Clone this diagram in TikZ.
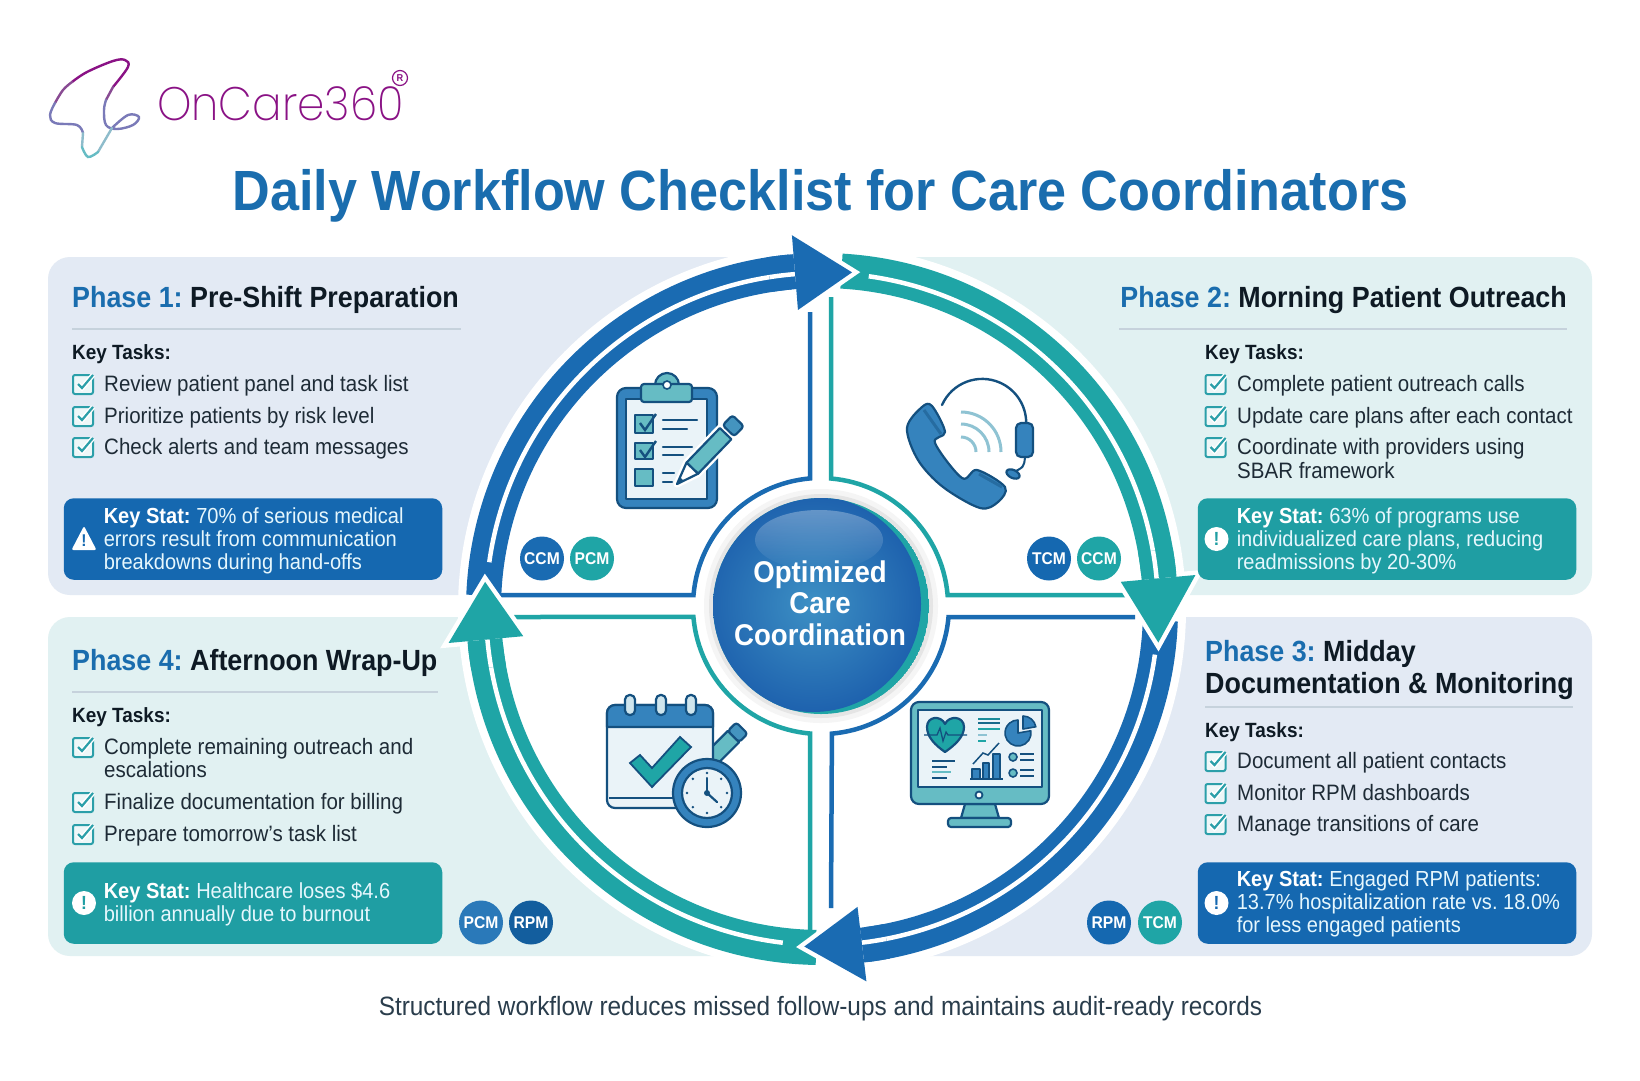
\documentclass[tikz,border=0pt]{standalone}
\usepackage{fontspec}
\setmainfont[FakeStretch=0.92]{Liberation Sans}
\newfontfamily\logofont[FakeStretch=0.93]{Poppins ExtraLight}
\usepackage{xcolor}
\usetikzlibrary{positioning,fadings}
\definecolor{arcblue}{HTML}{1A6BB2}
\definecolor{arcteal}{HTML}{1FA5A6}
\definecolor{panelblue}{HTML}{E3EAF4}
\definecolor{panelteal}{HTML}{E1F1F2}
\definecolor{statblue}{HTML}{1568B0}
\definecolor{statteal}{HTML}{1F9EA3}
\definecolor{titleblue}{HTML}{1A6DAE}
\definecolor{inkdark}{HTML}{0E1A24}
\definecolor{inktask}{HTML}{1E2B36}
\definecolor{inkfoot}{HTML}{2A3D4C}
\definecolor{rulegrey}{HTML}{C6D2DC}
\definecolor{checkteal}{HTML}{2B9FA9}
\definecolor{logopurple}{HTML}{8A1285}
\definecolor{iconink}{HTML}{14507F}
\definecolor{iconblue}{HTML}{3583BD}
\definecolor{iconteal}{HTML}{66BCC4}
\definecolor{iconpale}{HTML}{EAF3F8}
\definecolor{iconwave}{HTML}{8FC3D3}
\definecolor{hubglow}{HTML}{3D90C4}
\definecolor{hubedge}{HTML}{1E62AE}
\frenchspacing
\begin{document}
\begin{tikzpicture}[
        x=1pt,y=-1pt,
        phasetitle/.style={anchor=west, font=\bfseries\fontsize{29.2}{31}\selectfont, text=inkdark, inner sep=0pt},
        keyhead/.style={anchor=west, font=\bfseries\fontsize{20.6}{23}\selectfont, text=inkdark, inner sep=0pt, text height=15pt, text depth=5pt},
        tasktext/.style={anchor=west, font=\fontsize{22.3}{23}\selectfont, text=inktask, inner sep=0pt, text height=15pt, text depth=5pt},
        statbox/.style={rectangle, rounded corners=10, minimum width=378.5, minimum height=81.5, inner sep=0pt},
        stattext/.style={anchor=west, align=left, font=\fontsize{21.8}{23}\selectfont, text=white!90!cyan, inner sep=0pt},
        badge/.style={circle, minimum size=44, inner sep=0pt, text=white, font=\bfseries\fontsize{17}{18}\selectfont},
        alertdot/.style={circle, fill=white, minimum size=24, inner sep=0pt, font=\bfseries\fontsize{19}{19}\selectfont},
        bandblue/.style={draw=arcblue, line width=35},
        bandteal/.style={draw=arcteal, line width=35},
        bandgap/.style={draw=white, line width=4.5},
        headhalo/.style={draw=white, line width=9, line join=miter},
        quadblue/.style={draw=arcblue, line width=4.5},
        quadteal/.style={draw=arcteal, line width=4.5},
        iconline/.style={draw=iconink, line width=2.2, line join=round},
        iconbar/.style={draw=iconink, line width=2.2, line cap=round},
        checkbox/.pic={
            \draw[checkteal, line width=2, rounded corners=2, fill=checkteal!8] (-10,-9) rectangle (10,10);
            \draw[white, line width=5] (-5,0) -- (-1,4) -- (10,-9);
            \draw[checkteal, line width=2.2] (-5,0) -- (-1,4) -- (10,-9);
        }
    ]
        \useasboundingbox (0,0) rectangle (1640,1080);
        \fill[white] (0,0) rectangle (1640,1080);

        % Logo
        \draw[logopurple, line width=2.4, line cap=round] plot[smooth, tension=0.6] coordinates {(113,87) (128,67) (125,60) (113,61) (87,72) (72,82)};
        \draw[logopurple!75!iconwave!80!gray, line width=2.4, line cap=round] plot[smooth, tension=0.6] coordinates {(72,82) (63,90) (55,103)};
        \draw[logopurple!75!iconwave!80!gray, line width=2.4, line cap=round] plot[smooth, tension=0.6] coordinates {(113,87) (106,100)};
        \draw[gray!70!blue!80, line width=2.4, line cap=round] plot[smooth, tension=0.6] coordinates {(55,103) (50,115) (55,123) (77,125) (83,133)};
        \draw[gray!70!blue!80, line width=2.4, line cap=round] plot[smooth, tension=0.6] coordinates {(106,100) (104,110) (106,125) (117,129) (133,125) (139,117) (128,115) (112,128)};
        \draw[iconwave!90!gray, line width=2.4, line cap=round] plot[smooth, tension=0.6] coordinates {(112,128) (98,152)};
        \draw[iconwave!90!gray, line width=2.4, line cap=round] plot[smooth, tension=0.6] coordinates {(83,133) (82,147)};
        \draw[iconteal, line width=2.4, line cap=round] plot[smooth, tension=0.6] coordinates {(82,147) (88,157) (98,152)};
        \node[anchor=west, inner sep=0pt, text=logopurple, font=\logofont\fontsize{47}{47}\selectfont] (logotext) at (157,104) {OnCare360};
        \node[circle, draw=logopurple, line width=1.2, minimum size=15, inner sep=0pt, text=logopurple, font=\bfseries\fontsize{10}{10}\selectfont] (logomark) at (400,78) {R};

        % Title
        \node[text=titleblue, inner sep=0pt, font=\bfseries\fontsize{56.7}{58}\selectfont] (title) at (820.5,195.5) {Daily Workflow Checklist for Care Coordinators};

        % Panels
        \fill[panelblue, rounded corners=22] (48,257) rectangle (800,595);
        \fill[panelteal, rounded corners=22] (840,257) rectangle (1592,595);
        \fill[panelteal, rounded corners=22] (48,617) rectangle (800,956);
        \fill[panelblue, rounded corners=22] (840,617) rectangle (1592,956);
        \fill[white] (822,609) circle[radius=364];

        % Quadrant lines
        \draw[quadblue] (501,595) -- (693.5,595) arc[start angle=184.9, end angle=265.1, radius=128] -- (810,312);
        \draw[quadteal] (831,297) -- (831,478.5) arc[start angle=274.9, end angle=355.1, radius=128] -- (1143,595);
        \draw[quadblue] (1135,617) -- (948.5,617) arc[start angle=4.9, end angle=85.1, radius=128] -- (831,908);
        \draw[quadteal] (810,932) -- (810,733.5) arc[start angle=94.9, end angle=175.1, radius=128] -- (514,617);

        % Cycle arrows
        \begin{scope}[shift={(822,609)}]
            \draw[bandblue] (182.3:338.5) arc[start angle=182.3, end angle=265.4, radius=338.5];
            \draw[bandteal] (273.3:338.5) arc[start angle=273.3, end angle=354.8, radius=338.5];
            \draw[bandblue] (2:338.5) arc[start angle=2, end angle=83.2, radius=338.5];
            \draw[bandteal] (91:338.5) arc[start angle=91, end angle=174.8, radius=338.5];
            \draw[bandgap] (188:336) arc[start angle=188, end angle=266, radius=336];
            \draw[bandgap] (278:336) arc[start angle=278, end angle=355.4, radius=336];
            \draw[bandgap] (7.8:336) arc[start angle=7.8, end angle=83.8, radius=336];
            \draw[bandgap] (96.7:336) arc[start angle=96.7, end angle=175.4, radius=336];

            \draw[headhalo] (265.4:300) -- (265.4:375) -- (275.1:338) -- cycle;
            \draw[bandblue] (261:338.5) arc[start angle=261, end angle=265.4, radius=338.5];
            \draw[bandgap] (261:336) arc[start angle=261, end angle=265.4, radius=336];
            \fill[arcblue] (265.4:300) -- (265.4:375) -- (275.1:338) -- cycle;

            \draw[headhalo] (354.8:300) -- (354.8:375) -- (5.7:338) -- cycle;
            \draw[bandteal] (350:338.5) arc[start angle=350, end angle=354.8, radius=338.5];
            \draw[bandgap] (350:336) arc[start angle=350, end angle=354.8, radius=336];
            \fill[arcteal] (354.8:300) -- (354.8:375) -- (5.7:338) -- cycle;

            \draw[headhalo] (83.2:300) -- (83.2:375) -- (93:338) -- cycle;
            \draw[bandblue] (79:338.5) arc[start angle=79, end angle=83.2, radius=338.5];
            \draw[bandgap] (79:336) arc[start angle=79, end angle=83.2, radius=336];
            \fill[arcblue] (83.2:300) -- (83.2:375) -- (93:338) -- cycle;

            \draw[headhalo] (174.8:300) -- (174.8:375) -- (184.6:338) -- cycle;
            \draw[bandteal] (170:338.5) arc[start angle=170, end angle=174.8, radius=338.5];
            \draw[bandgap] (170:336) arc[start angle=170, end angle=174.8, radius=336];
            \fill[arcteal] (174.8:300) -- (174.8:375) -- (184.6:338) -- cycle;
        \end{scope}

        % Hub
        \fill[gray!8] (821,606) circle[radius=117];
        \fill[gray!20] (821,606) circle[radius=112];
        \begin{scope}
            \clip (821,606) circle[radius=108];
            \fill[arcteal] (821,606) circle[radius=108];
            \shade[inner color=hubglow, outer color=hubedge] (813,604) circle[radius=108];
        \end{scope}
        \fill[white, path fading=south, opacity=0.3] (819,540) ellipse[x radius=64, y radius=30];
        \node[align=center, text=white, inner sep=0pt, font=\bfseries\fontsize{30}{31.5}\selectfont] (hub) at (820,603) {Optimized\\Care\\Coordination};

        % Clipboard icon
        \draw[iconline, fill=iconblue, rounded corners=9] (617,388) rectangle (717,508);
        \draw[iconline, fill=iconpale] (626,399) rectangle (707,499);
        \draw[iconline, fill=iconteal] (667,385) circle[radius=12];
        \draw[iconline, fill=iconteal, rounded corners=3] (641,384) rectangle (692,402);
        \fill[iconteal] (656,386) rectangle (678,392);
        \draw[iconink, line width=1.6, fill=white] (667,385) circle[radius=4];
        \draw[iconline, fill=iconteal] (635,415) rectangle (653,433);
        \draw[iconline, fill=iconteal] (635,443) rectangle (653,459);
        \draw[iconline, fill=iconteal] (635,469) rectangle (653,486);
        \draw[iconink, line width=2.4] (640,423) -- (645,430) -- (656,414);
        \draw[iconink, line width=2.4] (640,450) -- (645,457) -- (656,441);
        \draw[iconbar] (663,420) -- (697,420);
        \draw[iconbar] (663,429) -- (687,429);
        \draw[iconbar] (663,447) -- (692,447);
        \draw[iconbar] (663,455) -- (683,455);
        \draw[iconbar] (663,473) -- (674,473);
        \draw[iconbar] (663,482) -- (672,482);
        \begin{scope}[shift={(677,484)}, rotate=46]
            \draw[white, line width=7, line join=round] (0,0) -- (22,-8) -- (85,-8) -- (85,8) -- (22,8) -- cycle;
            \draw[iconline, fill=iconteal] (22,-8) -- (70,-8) -- (70,8) -- (22,8) -- cycle;
            \draw[iconline, fill=iconblue!70!iconteal, rounded corners=3] (74,-8) -- (88,-8) -- (88,8) -- (74,8) -- cycle;
            \draw[iconline, fill=white] (0,0) -- (22,-8) -- (22,8) -- cycle;
            \fill[iconink] (0,0) -- (7,-3) -- (7,3) -- cycle;
        \end{scope}

        % Phone icon
        \draw[iconink, line width=2.4, line cap=round] (942,405) arc[start angle=204, end angle=360, radius=44];
        \draw[iconline, fill=iconblue] plot[smooth cycle, tension=0.55] coordinates {(922,407) (932,406) (945,432) (935,443) (962,478) (977,470) (1005,487) (998,502) (980,508) (943,487) (918,460) (907,428)};
        \draw[iconblue!55!iconink, line width=3] (924,410) -- (941,434);
        \draw[iconblue!55!iconink, line width=3] (979,474) -- (1002,487);
        \draw[iconwave, line width=3] (961,412) arc[start angle=270, end angle=360, radius=40];
        \draw[iconwave, line width=3] (961,424) arc[start angle=270, end angle=360, radius=28];
        \draw[iconwave, line width=3] (961,437) arc[start angle=270, end angle=360, radius=15];
        \draw[iconline, fill=iconblue, rounded corners=5] (1016,423) rectangle (1033,457);
        \draw[iconink, line width=2] (1025,457) .. controls (1024,467) .. (1012,473);
        \draw[iconline, fill=iconblue, rotate around={-25:(1013,474)}] (1013,474) ellipse[x radius=7, y radius=4];

        % Calendar icon
        \begin{scope}[shift={(708,762)}, rotate=45]
            \draw[iconline, fill=iconteal] (0,-8) -- (36,-8) -- (36,8) -- (0,8) -- cycle;
            \draw[iconline, fill=iconblue!70!iconteal, rounded corners=3] (36,-8) -- (48,-8) -- (48,8) -- (36,8) -- cycle;
        \end{scope}
        \draw[iconline, fill=iconpale, rounded corners=8] (607,705) rectangle (713,808);
        \draw[iconink, line width=1.6] (609,798) -- (680,798);
        \draw[iconline, fill=iconblue] (607,727) -- (607,713) arc[start angle=180, end angle=270, radius=8] -- (705,705) arc[start angle=270, end angle=360, radius=8] -- (713,727) -- cycle;
        \draw[iconline, fill=iconpale!70!iconwave, rounded corners=4.5] (625,695) rectangle (635,715);
        \draw[iconline, fill=iconpale!70!iconwave, rounded corners=4.5] (656,695) rectangle (666,715);
        \draw[iconline, fill=iconpale!70!iconwave, rounded corners=4.5] (686,695) rectangle (696,715);
        \draw[iconink, line width=1.8, fill=arcteal] (630,763) -- (640,755) -- (652,768) -- (680,737) -- (691,747) -- (652,787) -- cycle;
        \draw[iconline, fill=iconblue] (707,793) circle[radius=34];
        \draw[iconline, fill=iconpale] (707,793) circle[radius=25];
        \draw[iconbar] (707,793) -- (707,778);
        \draw[iconbar] (707,793) -- (717,802);
        \fill[iconink] (707,793) circle[radius=3];
        \foreach \a in {0,45,...,315} \fill[iconink] ([shift={(\a:20)}]707,793) circle[radius=1.4];

        % Monitor icon
        \draw[iconline, fill=iconteal] (965,804) -- (995,804) -- (999,818) -- (961,818) -- cycle;
        \draw[iconline, fill=iconteal, rounded corners=3] (948,818) rectangle (1011,827);
        \draw[iconline, fill=iconteal, rounded corners=8] (911,702) rectangle (1049,804);
        \draw[iconline, fill=iconpale] (918,710) rectangle (1042,787);
        \draw[iconink, line width=1.8, fill=white] (979,795) circle[radius=3.5];
        \draw[iconline, fill=arcteal] (945,752) .. controls (935,745) and (927,737) .. (927,727) .. controls (927,716) and (941,715) .. (945,724) .. controls (949,715) and (964,716) .. (964,727) .. controls (964,737) and (955,745) .. (945,752) -- cycle;
        \draw[iconink, line width=1.3] (924,735) -- (937,735) -- (940,728) -- (943,741) -- (946,732) -- (948,735) -- (967,735);
        \draw[arcteal!70!iconink, line width=2] (978,719) -- (1000,719);
        \draw[iconink!70!arcteal, line width=2] (978,723) -- (1000,723);
        \draw[arcteal, line width=2] (978,729) -- (1000,729);
        \draw[iconwave, line width=2] (978,735) -- (987,735);
        \draw[arcteal, line width=2] (978,741) -- (986,741);
        \draw[iconline, line width=1.6, fill=iconblue] (1018,733) -- ++(350:13) arc[start angle=350, end angle=630, radius=13] -- cycle;
        \draw[iconline, line width=1.6, fill=iconblue] (1023,729) -- ++(270:13) arc[start angle=270, end angle=350, radius=13] -- cycle;
        \draw[iconink, line width=2] (932,761) -- (955,761);
        \draw[iconink, line width=2] (932,767) -- (947,767);
        \draw[iconteal, line width=2] (932,772) -- (951,772);
        \draw[iconink, line width=2] (932,778) -- (947,778);
        \draw[iconline, line width=1.6, fill=iconblue] (972,769) rectangle (980,779);
        \draw[iconline, line width=1.6, fill=iconblue] (983,763) rectangle (989,779);
        \draw[iconline, line width=1.6, fill=iconblue] (993,754) rectangle (1000,779);
        \draw[iconink, line width=2] (970,779) -- (1003,779);
        \draw[iconink, line width=1.5] (973,764) -- (983,753) -- (988,755) -- (999,743);
        \draw[iconline, line width=1.6, fill=iconteal] (1013,757) circle[radius=4];
        \draw[iconline, line width=1.6, fill=iconteal] (1013,773) circle[radius=4];
        \draw[iconink, line width=1.6] (1020,754) -- (1034,754);
        \draw[iconink, line width=1.6] (1020,760) -- (1034,760);
        \draw[iconink, line width=1.6] (1020,770) -- (1034,770);
        \draw[iconink, line width=1.6] (1020,776) -- (1034,776);

        % Badges
        \node[badge, fill=arcblue] (ccma) at (542,558.5) {CCM};
        \node[badge, fill=arcteal] (pcma) at (592,558.5) {PCM};
        \node[badge, fill=statblue] (tcma) at (1049,558.5) {TCM};
        \node[badge, fill=arcteal] (ccmb) at (1099,558.5) {CCM};
        \node[badge, fill=iconblue!60!arcblue] (pcmb) at (481,922.5) {PCM};
        \node[badge, fill=statblue!90!black] (rpma) at (531,922.5) {RPM};
        \node[badge, fill=statblue] (rpmb) at (1109,922.5) {RPM};
        \node[badge, fill=arcteal] (tcmb) at (1160,922.5) {TCM};

        % Phase 1
        \node[phasetitle] (phasea) at (72,300) {\textcolor{titleblue}{Phase 1:} Pre-Shift Preparation};
        \draw[rulegrey, line width=1.2] (72,329) -- (461,329);
        \node[keyhead] (keya) at (72,354) {Key Tasks:};
        \node[tasktext] (taska) at (104,386) {Review patient panel and task list};
        \node[tasktext, below=32pt of taska.west, anchor=west] (taskb) {Prioritize patients by risk level};
        \node[tasktext, below=31pt of taskb.west, anchor=west] (taskc) {Check alerts and team messages};
        \pic at ([xshift=-21pt,yshift=2pt]taska.west) {checkbox};
        \pic at ([xshift=-21pt,yshift=2pt]taskb.west) {checkbox};
        \pic at ([xshift=-21pt,yshift=2pt]taskc.west) {checkbox};
        \node[statbox, fill=statblue] (stata) at (253,539) {};
        \node[stattext] (stataline) at ([xshift=40pt,yshift=-2pt]stata.west) {\textbf{\textcolor{white}{Key Stat:}} 70\% of serious medical\\errors result from communication\\breakdowns during hand-offs};
        \fill[white, rounded corners=2] (84,526) -- (96.5,550) -- (71.5,550) -- cycle;
        \node[text=statblue, inner sep=0pt, font=\bfseries\fontsize{17}{17}\selectfont] (alerta) at (84,541) {!};

        % Phase 2
        \node[phasetitle, anchor=east] (phaseb) at (1567,300) {\textcolor{titleblue}{Phase 2:} Morning Patient Outreach};
        \draw[rulegrey, line width=1.2] (1119,329) -- (1567,329);
        \node[keyhead] (keyb) at (1205,354) {Key Tasks:};
        \node[tasktext] (taskd) at (1237,386) {Complete patient outreach calls};
        \node[tasktext, below=32pt of taskd.west, anchor=west] (taske) {Update care plans after each contact};
        \node[tasktext, below=31pt of taske.west, anchor=west] (taskf) {Coordinate with providers using};
        \node[tasktext, below=24pt of taskf.west, anchor=west] (taskfb) {SBAR framework};
        \pic at ([xshift=-21.5pt,yshift=2pt]taskd.west) {checkbox};
        \pic at ([xshift=-21.5pt,yshift=2pt]taske.west) {checkbox};
        \pic at ([xshift=-21.5pt,yshift=2pt]taskf.west) {checkbox};
        \node[statbox, fill=statteal] (statb) at (1387,539) {};
        \node[stattext] (statbline) at ([xshift=39pt,yshift=-2pt]statb.west) {\textbf{\textcolor{white}{Key Stat:}} 63\% of programs use\\individualized care plans, reducing\\readmissions by 20-30\%};
        \node[alertdot, text=statteal] (alertb) at (1216.5,539) {!};

        % Phase 3
        \node[phasetitle] (phasec) at (1205,654) {\textcolor{titleblue}{Phase 3:} Midday};
        \node[phasetitle, below=32pt of phasec.west, anchor=west] (phasecb) {Documentation \& Monitoring};
        \draw[rulegrey, line width=1.2] (1205,707) -- (1573,707);
        \node[keyhead] (keyc) at (1205,732) {Key Tasks:};
        \node[tasktext] (taskg) at (1237,763) {Document all patient contacts};
        \node[tasktext, below=32pt of taskg.west, anchor=west] (taskh) {Monitor RPM dashboards};
        \node[tasktext, below=31pt of taskh.west, anchor=west] (taski) {Manage transitions of care};
        \pic at ([xshift=-21.5pt,yshift=2pt]taskg.west) {checkbox};
        \pic at ([xshift=-21.5pt,yshift=2pt]taskh.west) {checkbox};
        \pic at ([xshift=-21.5pt,yshift=2pt]taski.west) {checkbox};
        \node[statbox, fill=statblue] (statc) at (1387,903) {};
        \node[stattext] (statcline) at ([xshift=39pt,yshift=-1pt]statc.west) {\textbf{\textcolor{white}{Key Stat:}} Engaged RPM patients:\\13.7\% hospitalization rate vs. 18.0\%\\for less engaged patients};
        \node[alertdot, text=statblue] (alertc) at (1216.5,903) {!};

        % Phase 4
        \node[phasetitle] (phased) at (72,663) {\textcolor{titleblue}{Phase 4:} Afternoon Wrap-Up};
        \draw[rulegrey, line width=1.2] (72,692) -- (438,692);
        \node[keyhead] (keyd) at (72,717) {Key Tasks:};
        \node[tasktext] (taskj) at (104,749) {Complete remaining outreach and};
        \node[tasktext, below=23pt of taskj.west, anchor=west] (taskjb) {escalations};
        \node[tasktext, below=32pt of taskjb.west, anchor=west] (taskk) {Finalize documentation for billing};
        \node[tasktext, below=32pt of taskk.west, anchor=west] (taskl) {Prepare tomorrow's task list};
        \pic at ([xshift=-21pt,yshift=2pt]taskj.west) {checkbox};
        \pic at ([xshift=-21pt,yshift=2pt]taskk.west) {checkbox};
        \pic at ([xshift=-21pt,yshift=2pt]taskl.west) {checkbox};
        \node[statbox, fill=statteal] (statd) at (253,903) {};
        \node[stattext] (statdline) at ([xshift=40pt,yshift=-1pt]statd.west) {\textbf{\textcolor{white}{Key Stat:}} Healthcare loses \$4.6\\billion annually due to burnout};
        \node[alertdot, text=statteal] (alertd) at (84,903) {!};

        % Footer
        \node[text=inkfoot, inner sep=0pt, font=\fontsize{26.5}{28}\selectfont] (footer) at (820.5,1009) {Structured workflow reduces missed follow-ups and maintains audit-ready records};
    \end{tikzpicture}
\end{document}
